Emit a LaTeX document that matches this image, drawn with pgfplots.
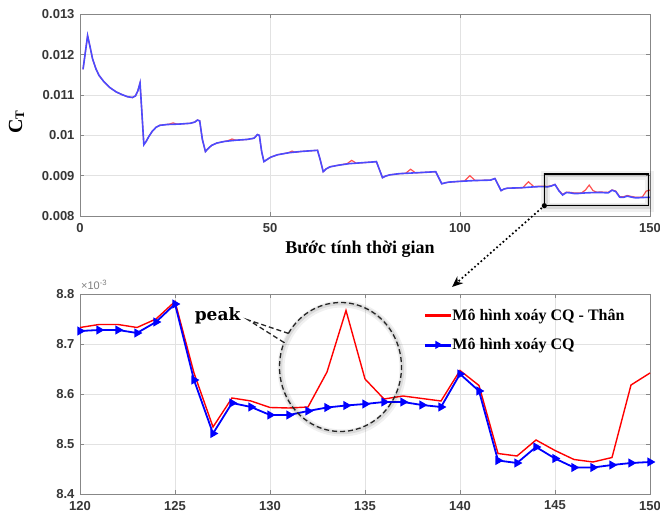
\documentclass[border=0pt]{standalone}
\usepackage{fontspec}
\setmainfont{Liberation Serif}
\newfontfamily\ticksf{Liberation Sans}
\newfontfamily\peakfont{DejaVu Serif}
\usepackage{pgfplots}
\pgfplotsset{compat=1.18}
\usepackage{pgfplotstable}
\usetikzlibrary{arrows.meta}

\definecolor{tlab}{RGB}{55,55,55}
\definecolor{axgray}{RGB}{135,135,135}
\definecolor{gridc}{RGB}{226,226,226}
\definecolor{lblue}{RGB}{75,75,255}
\definecolor{lred}{RGB}{255,80,80}

\pgfplotstableread{
t v
0.8 0.01164
2.0 0.012475
2.6 0.01222
3.3 0.01190
4.2 0.01165
5.0 0.01149
6.3 0.01133
7.8 0.01119
9.5 0.01108
11.1 0.01101
12.5 0.01096
13.8 0.01094
14.6 0.01098
15.2 0.01110
15.8 0.01130
16.2 0.01070
16.8 0.00977
17.4 0.00985
18.1 0.00997
19.0 0.01010
20.0 0.01020
21.0 0.01025
23.0 0.01027
26.0 0.01028
29.0 0.01030
30.2 0.01033
30.9 0.01038
31.5 0.01036
32.2 0.00990
33.0 0.00960
33.8 0.00968
34.6 0.00975
36.0 0.00981
38.0 0.00985
41.0 0.00988
44.0 0.00990
45.8 0.00993
46.7 0.01002
47.2 0.01000
47.8 0.00960
48.4 0.00935
49.2 0.00940
50.2 0.00946
52.0 0.00952
55.0 0.00957
58.0 0.00960
61.0 0.00962
62.5 0.00963
63.2 0.00940
64.0 0.00910
64.8 0.00917
65.8 0.00922
68.0 0.00926
71.0 0.00930
74.0 0.00932
77.0 0.00934
78.0 0.00935
78.8 0.00915
79.6 0.00895
80.4 0.00899
81.5 0.00902
84.0 0.00905
88.0 0.00907
92.0 0.00909
93.6 0.00910
94.4 0.00895
95.2 0.00880
96.0 0.00882
97.0 0.00884
100.0 0.00886
104.0 0.00888
108.0 0.00889
109.2 0.00893
110.0 0.00878
110.8 0.00863
111.6 0.00867
112.5 0.00869
116.0 0.00870
119.0 0.00872
120 0.008726
121 0.008728
122 0.008728
123 0.008722
124 0.008744
125 0.008780
126 0.008628
127 0.008521
128 0.008582
129 0.008574
130 0.008558
131 0.008558
132 0.008566
133 0.008573
134 0.008577
135 0.008580
136 0.008584
137 0.008584
138 0.008578
139 0.008574
140 0.008640
141 0.008606
142 0.008467
143 0.008462
144 0.008494
145 0.008471
146 0.008453
147 0.008453
148 0.008458
149 0.008462
150 0.008464
}\topblue

\pgfplotstableread{
t v
0.8 0.01164
2.0 0.012475
2.6 0.01222
3.3 0.01190
4.2 0.01165
5.0 0.01149
6.3 0.01133
7.8 0.01119
9.5 0.01108
11.1 0.01101
12.5 0.01096
13.8 0.01094
14.6 0.01098
15.2 0.01110
15.8 0.01130
16.2 0.01070
16.8 0.00977
17.4 0.00985
18.1 0.00997
19.0 0.01010
20.0 0.01020
21.0 0.01025
23.5 0.01028
24.5 0.01031
25.5 0.01028
29.0 0.01030
30.2 0.01033
30.9 0.01038
31.5 0.01036
32.2 0.00990
33.0 0.00960
33.8 0.00968
34.6 0.00975
36.0 0.00981
38.0 0.00985
39.0 0.00987
40.0 0.00991
41.0 0.00988
44.0 0.00990
45.8 0.00993
46.7 0.01002
47.2 0.01000
47.8 0.00960
48.4 0.00935
49.2 0.00940
50.2 0.00946
52.0 0.00952
54.8 0.00957
55.8 0.00961
56.8 0.00958
58.0 0.00960
61.0 0.00962
62.5 0.00963
63.2 0.00940
64.0 0.00910
64.8 0.00917
65.8 0.00922
68.0 0.00926
70.3 0.00930
71.5 0.00938
72.7 0.00931
74.0 0.00932
77.0 0.00934
78.0 0.00935
78.8 0.00915
79.6 0.00895
80.4 0.00899
81.5 0.00902
84.0 0.00905
85.7 0.00906
87.0 0.00916
88.3 0.00907
92.0 0.00909
93.6 0.00910
94.4 0.00895
95.2 0.00880
96.0 0.00882
97.0 0.00884
100.0 0.00886
101.2 0.00887
102.6 0.00900
104.0 0.00888
108.0 0.00889
109.2 0.00893
110.0 0.00878
110.8 0.00863
111.6 0.00867
112.5 0.00869
116.5 0.00870
118.0 0.00885
119.5 0.00872
120 0.008733
121 0.008739
122 0.008739
123 0.008733
124 0.008750
125 0.008785
126 0.008642
127 0.008534
128 0.008592
129 0.008586
130 0.008573
131 0.008572
132 0.008574
133 0.008644
134 0.008767
135 0.008630
136 0.008590
137 0.008596
138 0.008591
139 0.008586
140 0.008647
141 0.008617
142 0.008481
143 0.008476
144 0.008508
145 0.008487
146 0.008469
147 0.008464
148 0.008473
149 0.008618
150 0.008642
}\topred

\pgfplotstableread{
t red blue
120 8.733 8.726
121 8.739 8.728
122 8.739 8.728
123 8.733 8.722
124 8.750 8.744
125 8.785 8.780
126 8.642 8.628
127 8.534 8.521
128 8.592 8.582
129 8.586 8.574
130 8.573 8.558
131 8.572 8.558
132 8.574 8.566
133 8.644 8.573
134 8.767 8.577
135 8.630 8.580
136 8.590 8.584
137 8.596 8.584
138 8.591 8.578
139 8.586 8.574
140 8.647 8.640
141 8.617 8.606
142 8.481 8.467
143 8.476 8.462
144 8.508 8.494
145 8.487 8.471
146 8.469 8.453
147 8.464 8.453
148 8.473 8.458
149 8.618 8.462
150 8.642 8.464
}\zoomdata

\pgfplotsset{mystyle/.style={
  scale only axis, width=570pt,
  axis line style={axgray, line width=0.9pt},
  grid=major, major grid style={gridc, line width=0.6pt},
  tick align=inside, major tick length=4pt,
  tick style={axgray, line width=0.7pt},
  tick label style={font=\ticksf\bfseries\fontsize{13}{15}\selectfont, text=tlab},
  xticklabel style={yshift=-3.5pt},
  yticklabel style={xshift=-2pt},
  /pgf/number format/assume math mode=true,
  clip=false,
}}

\begin{document}
\begin{tikzpicture}
\useasboundingbox (0,0) rectangle (660pt,521pt);

% ---------- top axis ----------
\begin{axis}[mystyle, height=201.5pt, at={(80pt,305pt)}, anchor=south west,
  xmin=0, xmax=150, ymin=0.008, ymax=0.013,
  xtick={0,50,100,150},
  ytick={0.008,0.009,0.01,0.011,0.012,0.013},
  scaled y ticks=false,
  yticklabel style={/pgf/number format/fixed, /pgf/number format/precision=3},
]
\addplot[lred, line width=1.2pt] table[x=t, y=v] {\topred};
\addplot[lblue, line width=1.6pt] table[x=t, y=v] {\topblue};
% zoom rectangle with soft shadow
\draw[black, opacity=0.06, line width=9pt] ([xshift=1.5pt,yshift=-1.5pt]axis cs:122.2,0.008256) rectangle ([xshift=1.5pt,yshift=-1.5pt]axis cs:149.5,0.009042);
\draw[black, opacity=0.10, line width=4.5pt] ([xshift=1pt,yshift=-1pt]axis cs:122.2,0.008256) rectangle ([xshift=1pt,yshift=-1pt]axis cs:149.5,0.009042);
\draw[black, line width=1.1pt] (axis cs:122.2,0.008256) rectangle (axis cs:149.5,0.009042);
\coordinate (zc) at (axis cs:122.2,0.008256);
\end{axis}

% ---------- bottom axis ----------
\begin{axis}[mystyle, height=200pt, at={(80pt,27pt)}, anchor=south west,
  xmin=120, xmax=150, ymin=8.4, ymax=8.8,
  xtick={120,125,130,135,140,145,150},
  ytick={8.4,8.5,8.6,8.7,8.8},
  yticklabel style={/pgf/number format/fixed, /pgf/number format/fixed zerofill, /pgf/number format/precision=1},
  legend style={draw=none, fill=none, at={(axis cs:138.15,8.774)}, anchor=north west,
    font=\bfseries\fontsize{16}{18}\selectfont, row sep=12.5pt, inner sep=0pt,
    nodes={inner sep=2pt}},
  legend cell align=left,
]
\addplot[red, line width=1.4pt, forget plot] table[x=t, y=red] {\zoomdata};
\addplot[blue, line width=1.8pt, mark=triangle*, mark size=3.6pt, mark options={rotate=-90, solid}, forget plot] table[x=t, y=blue] {\zoomdata};
\addlegendimage{legend image code/.code={\fill[red] (0pt,-0.9pt) rectangle (25pt,0.9pt);}}
\addlegendentry{Mô hình xoáy CQ - Thân}
\addlegendimage{legend image code/.code={\fill[blue] (0pt,-0.9pt) rectangle (25pt,0.9pt);
  \draw[blue, line width=1.2pt] plot[mark=triangle*, mark size=3.6pt, mark options={rotate=-90, blue, fill=blue}, only marks] coordinates {(12.5pt,0pt)};}}
\addlegendentry{Mô hình xoáy CQ}
% callout ellipse
\draw[black, opacity=0.06, line width=7pt] ([xshift=1.5pt,yshift=-1.5pt]axis cs:133.71,8.654) ellipse [x radius=61pt, y radius=64.5pt];
\draw[black, opacity=0.09, line width=3.5pt] ([xshift=1pt,yshift=-1pt]axis cs:133.71,8.654) ellipse [x radius=61pt, y radius=64.5pt];
\draw[black!85, line width=1.3pt, dash pattern=on 5pt off 3pt]
  (axis cs:133.71,8.654) ++(148.6:61pt and 64.5pt)
  arc[start angle=148.6, end angle=-202.3, x radius=61pt, y radius=64.5pt]
  -- (axis cs:128.86,8.748) -- cycle;
\node[font=\peakfont\bfseries\fontsize{17}{20}\selectfont] at (axis cs:127.24,8.756) {peak};
\coordinate (zt) at (axis cs:139.58,8.814);
\end{axis}

% labels
\node[font=\bfseries\fontsize{18}{21}\selectfont] at (360pt,272pt) {Bước tính thời gian};
\node[rotate=90, font=\bfseries\fontsize{20}{22}\selectfont] at (16.5pt,399pt) {C\raisebox{-2pt}{\fontsize{13}{14}\selectfont T}};
\node[anchor=west, text=gray, font=\ticksf\fontsize{11}{12}\selectfont, inner sep=0pt] at (81pt,236pt) {×10\textsuperscript{-3}};

% dotted connector arrow
\draw[line width=2.4pt, line cap=round, dash pattern=on 0pt off 4.2pt, -{Stealth[length=11pt,width=9pt]}] (zc) -- (zt);
\fill (zc) circle (2.6pt);
\end{tikzpicture}
\end{document}
